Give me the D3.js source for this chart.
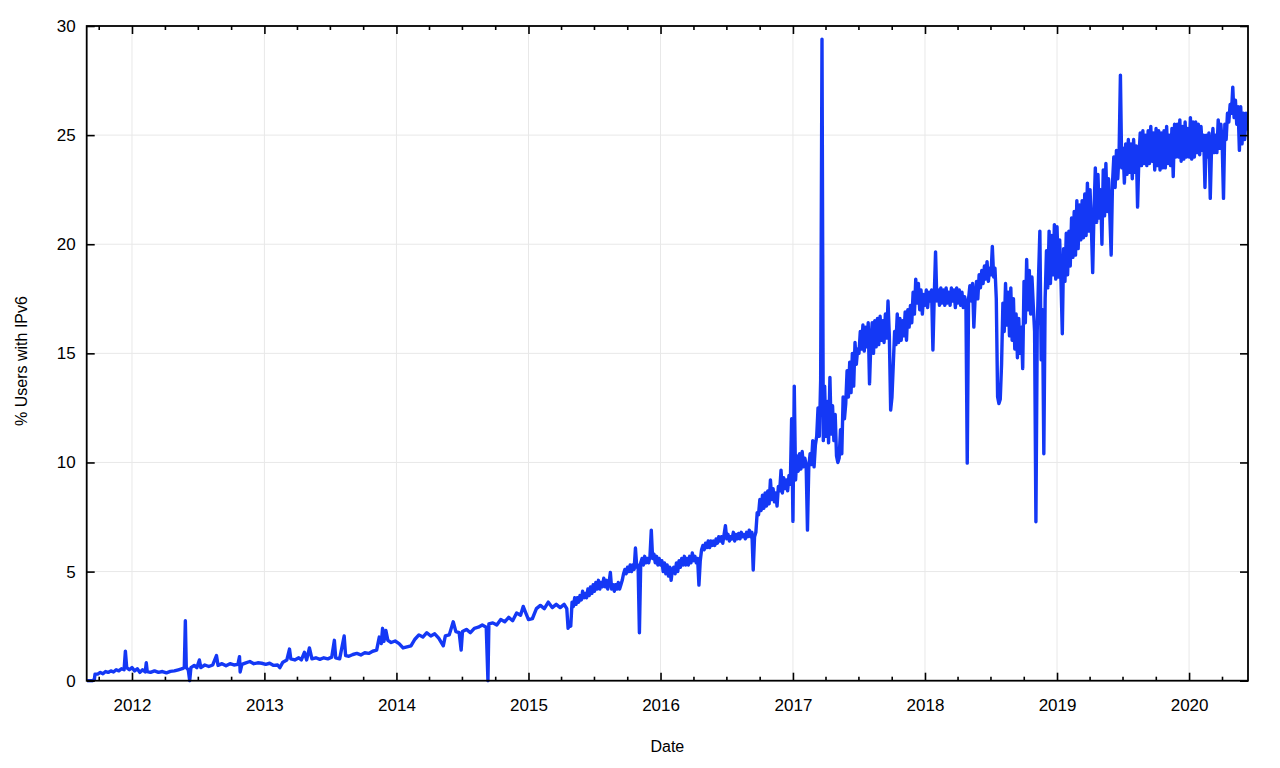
<!DOCTYPE html>
<html>
<head>
<meta charset="utf-8">
<script src="https://cdn.jsdelivr.net/npm/d3@7"></script>
<style>
  html, body { margin: 0; padding: 0; background: #fff; }
  svg { display: block; font-family: "Liberation Sans", Arial, Helvetica, sans-serif; }
</style>
</head>
<body>
<svg id="chart" width="1280" height="768"></svg>
<script>
// ---- Data (decimal year, % users with IPv6) ----
// Part 1: irregular samples, 2011.66 .. 2015.29
const earlyYears = [
2011.66,2011.70,2011.715,2011.72,2011.74,2011.76,2011.78,2011.80,2011.82,2011.84,2011.86,2011.88,2011.90,2011.92,2011.94,2011.95,2011.96,2011.98,
2012.00,2012.02,2012.04,2012.06,2012.08,2012.10,2012.108,2012.115,2012.14,2012.17,2012.20,2012.23,2012.26,2012.29,2012.32,2012.35,2012.38,2012.395,2012.403,2012.41,2012.425,2012.436,2012.445,2012.47,2012.49,2012.509,2012.52,2012.55,2012.58,2012.61,2012.638,2012.65,2012.68,2012.71,2012.74,2012.77,2012.80,2012.812,2012.817,2012.83,2012.86,2012.89,2012.92,2012.95,2012.98,
2013.01,2013.04,2013.07,2013.10,2013.117,2013.14,2013.17,2013.19,2013.20,2013.23,2013.26,2013.28,2013.303,2013.32,2013.341,2013.36,2013.39,2013.42,2013.45,2013.48,2013.51,2013.53,2013.54,2013.57,2013.604,2013.615,2013.64,2013.67,2013.70,2013.73,2013.76,2013.79,2013.82,2013.85,2013.87,2013.885,2013.895,2013.905,2013.92,2013.935,2013.96,2013.99,
2014.02,2014.05,2014.08,2014.11,2014.14,2014.17,2014.20,2014.23,2014.26,2014.29,2014.32,2014.355,2014.37,2014.40,2014.43,2014.45,2014.475,2014.49,2014.50,2014.53,2014.56,2014.59,2014.62,2014.65,2014.68,2014.693,2014.70,2014.73,2014.76,2014.79,2014.82,2014.85,2014.88,2014.91,2014.94,2014.96,2014.98,
2015.00,2015.03,2015.06,2015.09,2015.12,2015.15,2015.18,2015.21,2015.24,2015.27,2015.29
];
const earlyValues = [
0,0,0.05,0.3,0.3,0.38,0.32,0.42,0.38,0.45,0.4,0.5,0.45,0.55,0.5,1.35,0.6,0.5,
0.6,0.45,0.55,0.38,0.5,0.4,0.82,0.42,0.38,0.45,0.38,0.42,0.36,0.43,0.45,0.5,0.55,0.6,2.75,0.6,0.5,0.0,0.6,0.7,0.6,0.95,0.6,0.72,0.65,0.72,1.15,0.7,0.78,0.68,0.78,0.72,0.75,1.1,0.4,0.75,0.82,0.88,0.78,0.82,0.8,
0.75,0.8,0.7,0.72,0.6,0.85,0.95,1.45,1.0,0.95,1.05,0.95,1.3,0.95,1.5,1.0,1.05,0.98,1.05,1.0,1.08,1.85,1.05,1.0,2.05,1.15,1.12,1.2,1.25,1.18,1.28,1.25,1.35,1.4,2.0,1.7,2.4,1.8,2.3,1.85,1.75,1.82,
1.7,1.5,1.55,1.6,1.9,2.1,2.0,2.2,2.05,2.15,1.95,1.6,2.05,2.1,2.7,2.25,2.2,1.4,2.25,2.35,2.2,2.4,2.45,2.55,2.45,0.0,2.6,2.65,2.55,2.8,2.7,2.9,2.75,3.1,3.0,3.4,3.1,
2.8,2.85,3.3,3.45,3.3,3.6,3.35,3.5,3.35,3.5,3.3
];
// Part 2: regular samples every 0.01 year from 2015.30 to 2020.44 (dense, noisy period)
const denseStartYear = 2015.30;
const denseStepYear = 0.01;
const denseValues = [
// 2015.30
2.4,2.6,2.5,3.6,3.4,3.8,3.5,3.8,3.6,3.9,
3.7,4.1,3.8,4.0,3.8,4.2,3.9,4.3,4.0,4.4,
4.1,4.5,4.2,4.6,4.2,4.5,4.3,4.7,4.3,4.6,
4.2,4.5,4.96,4.2,4.4,4.1,4.4,4.2,4.5,4.2,
4.4,4.6,4.9,5.1,4.9,5.2,5.0,5.3,5.0,5.3,
5.1,6.08,5.2,5.3,2.2,5.4,5.6,5.3,5.7,5.4,
5.6,5.4,5.7,6.9,5.6,5.8,5.4,5.7,5.3,5.6,
// 2016.00
5.3,5.5,5.0,5.4,4.9,5.3,4.8,5.2,4.6,5.1,
5.2,4.9,5.4,5.0,5.5,5.2,5.6,5.3,5.7,5.3,
5.6,5.3,5.7,5.4,5.85,5.5,5.7,5.4,5.6,4.38,
5.5,6.0,6.2,6.0,6.3,6.1,6.4,6.1,6.4,6.2,
6.4,6.2,6.5,6.3,6.6,6.4,6.6,6.3,6.7,7.1,
6.5,6.7,6.4,6.6,6.5,6.8,6.4,6.7,6.5,6.75,
6.5,6.8,6.6,6.7,6.5,6.8,6.6,6.9,6.6,6.8,
5.07,6.6,6.8,7.7,7.6,8.3,7.8,8.5,7.9,8.6,
8.0,8.7,8.1,9.2,8.3,8.8,8.2,8.6,8.0,8.9,
8.7,9.65,8.6,9.3,8.8,9.2,8.7,9.4,9.0,12.0,
// 2017.00
7.3,13.5,9.2,10.3,9.6,10.4,9.7,10.5,9.8,10.2,
9.9,6.9,9.8,10.4,9.9,11.0,9.8,10.8,11.2,12.5,
11.2,13.8,29.4,11.0,13.5,11.2,12.8,10.9,13.9,11.3,
12.6,11.0,12.2,10.3,10.0,10.2,11.5,10.4,13.0,12.0,
12.7,14.2,13.0,14.6,13.2,15.0,13.5,15.5,14.5,15.2,
15.0,16.0,15.2,16.3,15.1,16.2,15.3,16.4,13.6,15.5,
16.4,15.0,16.5,15.3,16.6,15.4,16.7,15.6,16.5,15.5,
16.8,15.7,17.4,15.8,12.4,13.0,14.5,16.0,15.4,16.8,
15.5,16.6,15.6,16.5,15.8,16.9,15.6,17.0,16.2,17.2,
16.4,17.8,16.8,18.4,17.3,18.2,17.0,17.9,16.8,17.7,
// 2018.00
17.2,17.9,17.1,17.8,17.4,17.9,15.15,17.6,19.65,17.4,
17.9,17.2,18.0,17.3,17.9,17.2,18.0,17.3,17.8,17.2,
18.0,17.4,17.9,17.1,18.0,17.3,17.9,17.2,17.8,17.1,
17.6,17.3,9.97,17.5,18.1,17.4,18.2,16.2,17.6,18.3,
17.5,18.6,18.0,18.8,18.2,19.0,18.4,19.2,18.3,18.9,
18.6,19.9,18.5,18.9,17.5,13.0,12.7,12.9,14.5,17.3,
16.0,18.2,16.3,17.8,15.8,18.0,15.6,17.5,15.2,16.8,
14.8,16.6,15.0,16.2,14.3,18.3,16.4,19.3,17.0,18.8,
16.8,18.5,17.2,16.0,7.28,16.0,18.5,20.6,14.7,17.0,
10.4,17.5,19.7,18.0,20.6,18.2,20.4,18.6,20.9,18.4,
// 2019.00
20.8,18.5,20.2,18.3,15.9,19.8,18.3,20.5,18.6,20.6,
19.0,21.2,19.4,21.5,19.5,22.0,19.8,21.8,20.2,22.0,
20.3,22.3,20.4,22.8,20.6,22.5,20.8,18.7,21.5,23.5,
21.0,23.2,21.2,22.5,20.0,23.4,21.3,23.7,21.5,23.0,
21.3,19.5,22.8,24.0,22.6,24.3,23.0,24.2,27.75,23.5,
24.4,22.8,24.6,23.2,24.8,23.3,24.6,23.0,24.8,23.3,
24.5,21.7,24.0,25.1,23.6,25.2,23.7,25.0,23.6,25.2,
23.7,25.4,23.8,25.1,23.4,25.3,23.6,25.2,23.4,25.1,
23.5,25.2,23.5,25.4,23.7,25.0,23.6,25.3,23.1,25.5,
24.0,25.5,24.0,25.7,23.8,25.4,23.9,25.6,24.0,25.3,
// 2020.00
24.0,25.8,23.9,25.6,24.0,25.6,24.2,25.5,24.1,25.4,
24.3,25.0,22.6,25.0,24.0,25.1,22.1,24.5,25.3,24.2,
25.0,24.2,25.7,24.4,25.5,24.6,22.1,25.5,24.8,26.0,
25.6,26.4,26.0,27.2,25.8,26.6,25.5,26.3,24.3,26.3,
24.6,26.0,24.8,26.0,25.2
];
const yTickValues = [0, 5, 10, 15, 20, 25, 30];
const yearTickLabels = ["2012","2013","2014","2015","2016","2017","2018","2019","2020"];
const xAxisTitle = "Date";
const yAxisTitle = "% Users with IPv6";

// ---- helpers ----
function yearToDate(y) {
  const yr = Math.floor(y + 1e-9);
  const start = new Date(yr, 0, 1).getTime();
  const end = new Date(yr + 1, 0, 1).getTime();
  return new Date(start + (y - yr) * (end - start));
}
const data = earlyYears.map((y, i) => ({ date: yearToDate(y), value: earlyValues[i] }))
  .concat(denseValues.map((v, i) => ({ date: yearToDate(denseStartYear + i * denseStepYear), value: v })));

// ---- layout ----
const L = 86.7, R = 1248, T = 26, B = 680.7;
const svg = d3.select("#chart");

const x = d3.scaleTime()
  .domain([yearToDate(2011.657), yearToDate(2020.445)])
  .range([L, R]);
const y = d3.scaleLinear().domain([0, 30]).range([B, T]);

const yearTicks = yearTickLabels.map(s => new Date(+s, 0, 1));
const quarterTicks = d3.timeMonth.every(3).range(x.domain()[0], x.domain()[1])
  .filter(d => d.getMonth() !== 0);

// grid
const grid = svg.append("g").attr("stroke", "#e8e8e8").attr("stroke-width", 1);
grid.selectAll("line.vx").data(yearTicks).join("line")
  .attr("x1", d => x(d)).attr("x2", d => x(d)).attr("y1", T).attr("y2", B);
grid.selectAll("line.hy").data(yTickValues.filter(v => v > 0 && v < 30)).join("line")
  .attr("x1", L).attr("x2", R).attr("y1", d => y(d)).attr("y2", d => y(d));

// clip
svg.append("clipPath").attr("id", "clip").append("rect")
  .attr("x", L).attr("y", T - 2).attr("width", R - L).attr("height", B - T + 4);

// line
const line = d3.line().x(d => x(d.date)).y(d => y(d.value));
svg.append("path")
  .datum(data)
  .attr("clip-path", "url(#clip)")
  .attr("fill", "none")
  .attr("stroke", "#1438f5")
  .attr("stroke-width", 3.4)
  .attr("stroke-linejoin", "round")
  .attr("d", line);

// axes
const fmtYear = d => d3.timeFormat("%Y")(d);
function styleAxis(g) {
  g.select(".domain").remove();
  g.selectAll(".tick line").attr("stroke", "#000").attr("stroke-width", 1.6);
  g.selectAll(".tick text").attr("fill", "#000").style("font-size", "17px");
}
svg.append("g").attr("transform", `translate(0,${B})`)
  .call(d3.axisBottom(x).tickValues(yearTicks).tickFormat(fmtYear).tickSize(-8).tickSizeOuter(0).tickPadding(18))
  .call(styleAxis);
svg.append("g").attr("transform", `translate(0,${B})`)
  .call(d3.axisBottom(x).tickValues(quarterTicks).tickFormat("").tickSize(-4).tickSizeOuter(0))
  .call(styleAxis);
svg.append("g").attr("transform", `translate(0,${T})`)
  .call(d3.axisTop(x).tickValues(yearTicks).tickFormat("").tickSize(-8).tickSizeOuter(0))
  .call(styleAxis);
svg.append("g").attr("transform", `translate(0,${T})`)
  .call(d3.axisTop(x).tickValues(quarterTicks).tickFormat("").tickSize(-4).tickSizeOuter(0))
  .call(styleAxis);
svg.append("g").attr("transform", `translate(${L},0)`)
  .call(d3.axisLeft(y).tickValues(yTickValues).tickFormat(d3.format("d")).tickSize(-8).tickSizeOuter(0).tickPadding(11))
  .call(styleAxis);
svg.append("g").attr("transform", `translate(${R},0)`)
  .call(d3.axisRight(y).tickValues(yTickValues).tickFormat("").tickSize(-8).tickSizeOuter(0))
  .call(styleAxis);

// frame
svg.append("rect")
  .attr("x", L).attr("y", T).attr("width", R - L).attr("height", B - T)
  .attr("fill", "none").attr("stroke", "#000").attr("stroke-width", 1.8);

// titles
svg.append("text")
  .attr("x", (L + R) / 2).attr("y", 752)
  .attr("text-anchor", "middle")
  .style("font-size", "16px")
  .text(xAxisTitle);
svg.append("text")
  .attr("transform", `translate(27,361) rotate(-90)`)
  .attr("text-anchor", "middle")
  .style("font-size", "16px")
  .text(yAxisTitle);
</script>
</body>
</html>
